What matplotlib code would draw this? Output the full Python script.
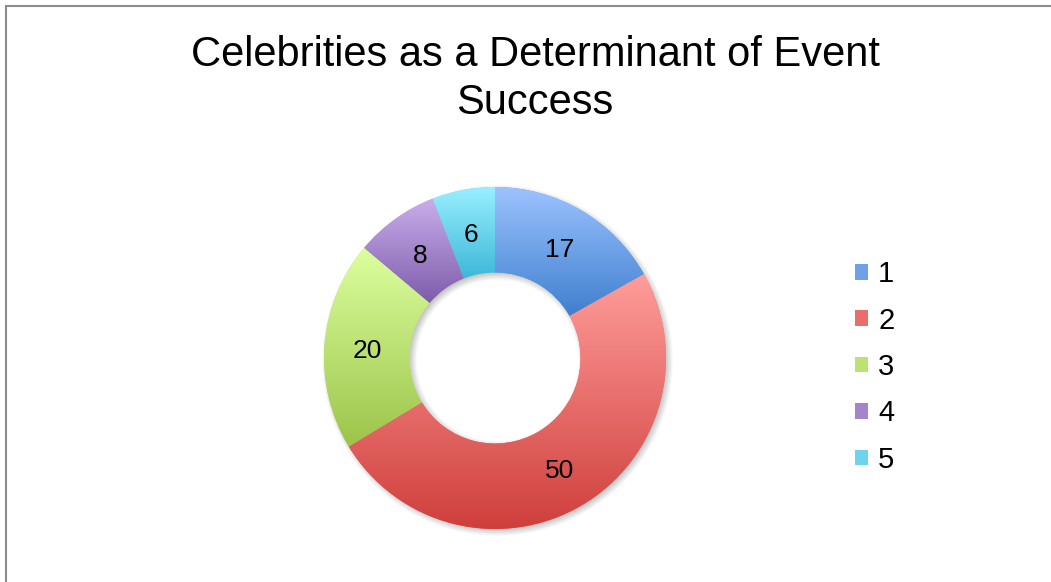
import numpy as np
import matplotlib
matplotlib.use('Agg')
import matplotlib.pyplot as plt
from matplotlib.colors import to_rgb
from matplotlib.patches import Rectangle

plt.rcParams['font.family'] = ['Liberation Sans', 'DejaVu Sans']

# 数据
categories = ['1', '2', '3', '4', '5']
values = [17, 50, 20, 8, 6]
# 每个扇区的渐变色 (上浅 -> 下深)
top_colors = ['#9dc3ff', '#ff9d9a', '#dcff9e', '#c9aeec', '#9af0ff']
bottom_colors = ['#3f7fcf', '#cf3f3c', '#9cc44a', '#7d5caa', '#3db8d8']
title = 'Celebrities as a Determinant of Event\nSuccess'

W, H = 1051, 582
fig = plt.figure(figsize=(W / 100, H / 100), dpi=100)

# 外框
fig.patches.append(Rectangle((6 / W, -0.1), 1.2, (H - 6) / H + 0.1, transform=fig.transFigure,
                             fill=False, edgecolor='#8c8c8c', linewidth=1.5))

# 圆环所在坐标轴, 外半径 = 1
R_px = 171.0
cx, cy = 495, 358
half = 200
ax = fig.add_axes([(cx - half) / W, (H - cy - half) / H, 2 * half / W, 2 * half / H])
lim = half / R_px
ax.set_xlim(-lim, lim)
ax.set_ylim(-lim, lim)
ax.set_aspect('equal')
ax.axis('off')

ring_w = 0.5

# 柔和阴影 (向右下偏移)
n = 600
xs = np.linspace(-lim, lim, n)
X, Y = np.meshgrid(xs, xs)
off = 2.5 / R_px
r = np.hypot(X - off, Y + off)
s = 5.0 / R_px
outer = np.clip((1.0 + s - r) / (2 * s), 0, 1)
inner = np.clip((r - (1.0 - ring_w) + s) / (2 * s), 0, 1)
alpha = 0.45 * outer * inner
shadow = np.zeros((n, n, 4))
shadow[..., :3] = 0.35
shadow[..., 3] = alpha
ax.imshow(shadow, extent=(-lim, lim, -lim, lim), origin='lower', zorder=0, interpolation='bilinear')

wedges, _ = ax.pie(values, radius=1.0, startangle=90, counterclock=False,
                   wedgeprops=dict(width=ring_w, edgecolor='none'))

grad = np.linspace(0, 1, 256)[:, None]
for w, c_top, c_bot in zip(wedges, top_colors, bottom_colors):
    t = np.array(to_rgb(c_top))
    b = np.array(to_rgb(c_bot))
    img = (t[None, None, :] * (1 - grad[..., None]) + b[None, None, :] * grad[..., None])
    img = np.repeat(img, 2, axis=1)
    bb = w.get_path().get_extents()
    w.set_facecolor(((t + b) / 2).tolist())
    im = ax.imshow(img, extent=(bb.x0, bb.x1, bb.y0, bb.y1), origin='upper',
                   aspect='auto', zorder=2, interpolation='bilinear')
    im.set_clip_path(w)

ax.set_xlim(-lim, lim)
ax.set_ylim(-lim, lim)

# 数值标签放在环的中间
label_r = 1.0 - ring_w / 2
for w, v in zip(wedges, values):
    ang = np.deg2rad((w.theta1 + w.theta2) / 2)
    ax.text(label_r * np.cos(ang), label_r * np.sin(ang) - 0.015, str(v),
            ha='center', va='center', fontsize=19, color='black', zorder=5)

# 图例
leg = fig.legend(wedges, categories, loc='center left',
                 bbox_to_anchor=(855 / W, (H - 367) / H),
                 frameon=False, fontsize=21, handlelength=0.45, handleheight=0.45,
                 handletextpad=0.34, labelspacing=0.63, borderpad=0, borderaxespad=0)

fig.text(535 / W, (H - 35) / H, title, ha='center', va='top', fontsize=30,
         linespacing=1.25)

fig.savefig('out.png', dpi=100)
